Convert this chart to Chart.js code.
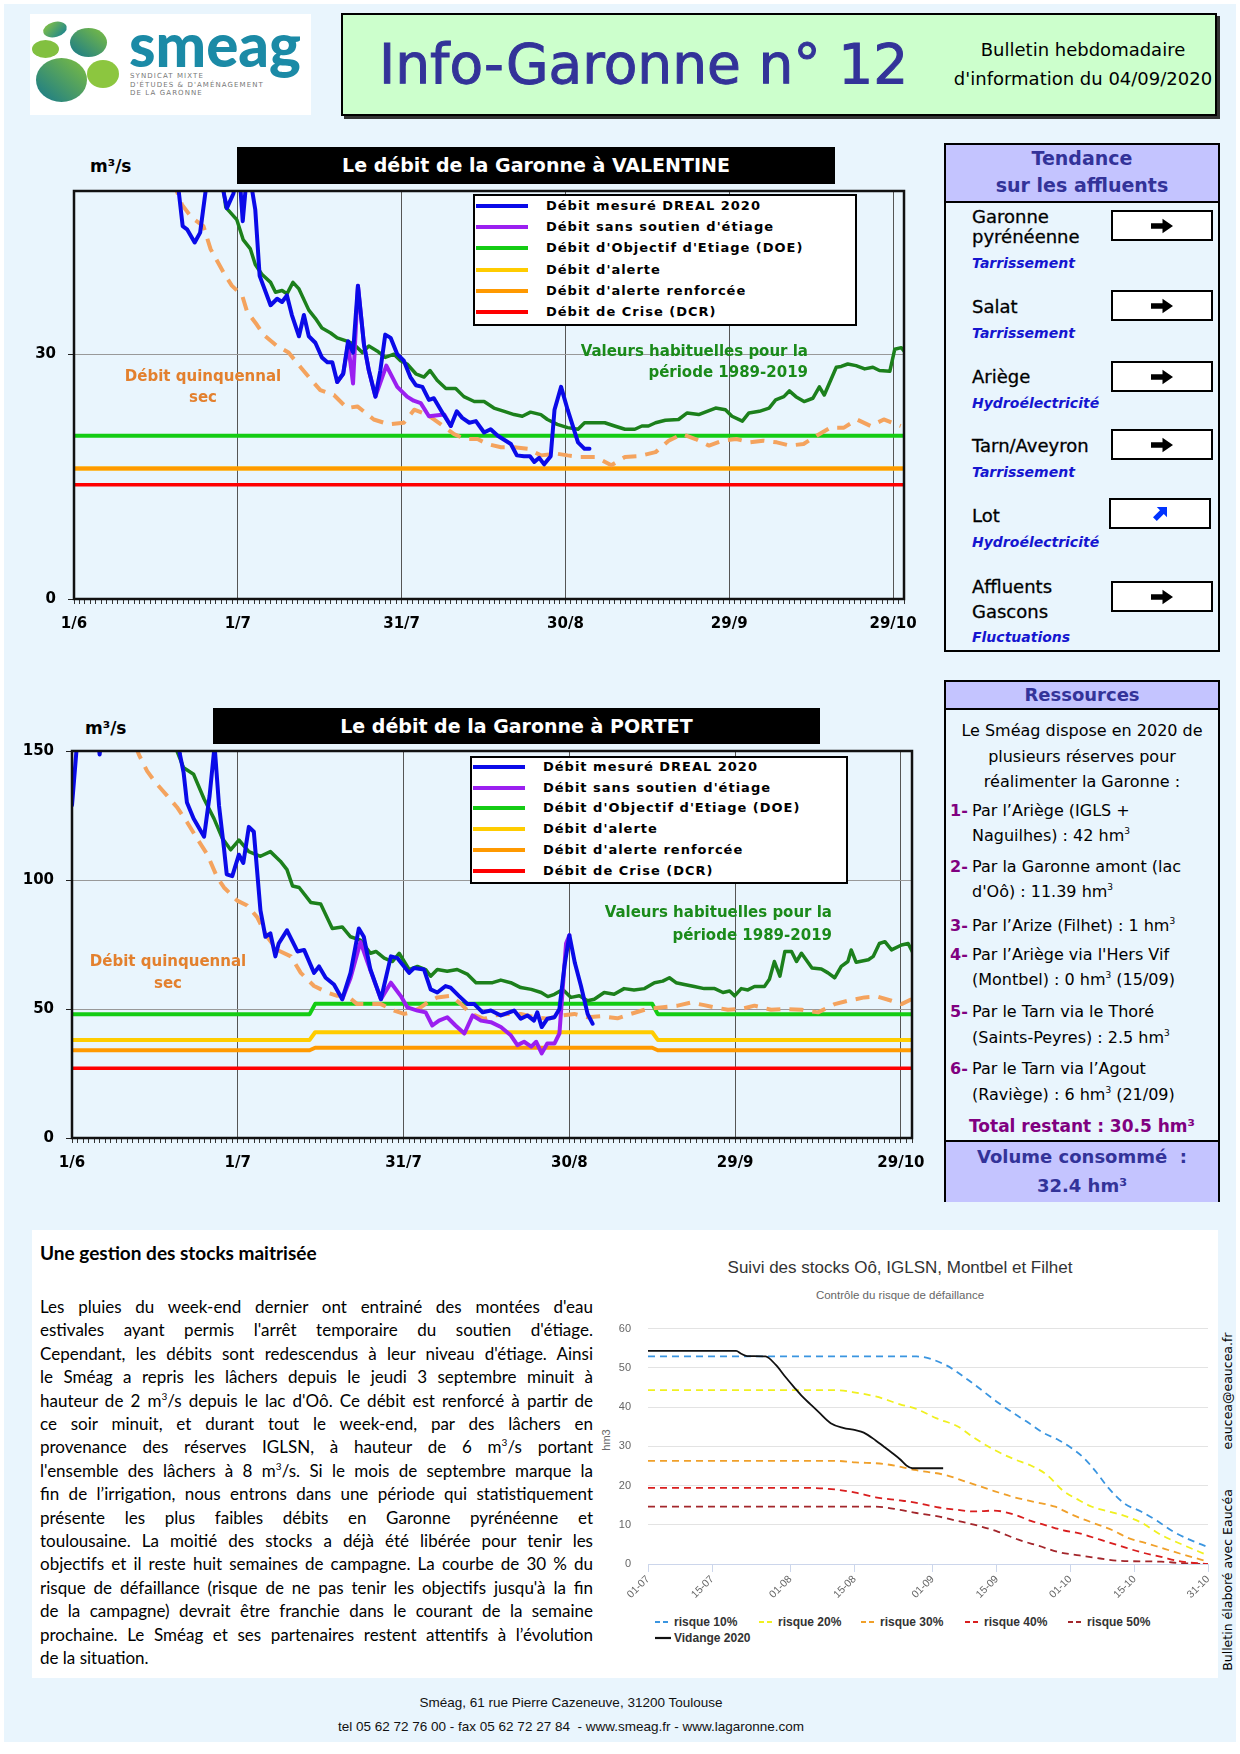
<!DOCTYPE html>
<html lang="fr">
<head>
<meta charset="utf-8">
<title>Info-Garonne n° 12</title>
<script src="https://cdn.jsdelivr.net/npm/chart.js@4.4.1/dist/chart.umd.min.js"></script>
<style>
  html, body { margin: 0; padding: 0; }
  body { width: 1240px; height: 1754px; position: relative; background: #fff; font-family: "DejaVu Sans", sans-serif; color: #000; overflow: hidden; }
  .a { position: absolute; white-space: nowrap; }
  #fond { left: 4px; top: 4px; width: 1232px; height: 1738px; background: #e9f5fd; }
  #logo { left: 30px; top: 14px; width: 281px; height: 101px; background: #fff; }
  #bandeau { left: 341px; top: 13px; width: 872px; height: 99px; background: #ccffcc; border: 2px solid #000; box-shadow: 3px 3px 0 #333; }
  #titre { left: 379px; top: 32px; font-size: 55px; line-height: 64px; color: #333399; -webkit-text-stroke: 1px #333399; }
  .bull { left: 933px; width: 300px; text-align: center; font-size: 18px; line-height: 22px; }
  .barre { background: #000; color: #fff; font-weight: bold; font-size: 19px; text-align: center; }
  .unite { font-weight: bold; font-size: 17px; line-height: 20px; }
  .leg { background: #fff; border: 2px solid #000; box-sizing: border-box; }
  .lt { font-weight: bold; font-size: 13px; letter-spacing: 1px; line-height: 18px; }
  .annot { font-weight: bold; font-size: 15px; }
  .orange { color: #e3802e; text-align: center; }
  .vert { color: #1a8a1a; text-align: right; }
  canvas { position: absolute; }
  .panneau { left: 944px; width: 276px; border: 2px solid #000; box-sizing: border-box; background: #e9f5fd; }
  .entete { background: #c4c4ff; color: #333399; font-weight: bold; text-align: center; }
  .nom { left: 972px; font-size: 18px; line-height: 20px; -webkit-text-stroke: 0.3px #000; }
  .etat { left: 972px; font-style: italic; font-weight: bold; font-size: 14px; line-height: 18px; color: #1515d0; }
  .fl { left: 1111px; width: 102px; height: 31px; border: 2px solid #000; box-sizing: border-box; background: #fff; display: flex; align-items: center; justify-content: center; }
  .res { font-size: 16px; line-height: 20px; }
  .num { left: 950px; color: #800080; font-weight: bold; }
  .txt { left: 972px; }
  .cen { left: 944px; width: 276px; text-align: center; }
  .res sup { font-size: 9px; vertical-align: 7px; line-height: 0; }
  #blanc { left: 32px; top: 1230px; width: 1186px; height: 448px; background: #fff; }
  #texte { left: 40px; top: 1295px; width: 553px; font-family: Lato, sans-serif; font-size: 17px; line-height: 23.4px; }
  #texte div { white-space: nowrap; }
  #texte sup { font-size: 10px; line-height: 0; }
  .hc { font-family: "Liberation Sans", Arial, sans-serif; }
  .hleg { font-weight: bold; font-size: 12px; color: #333; line-height: 14px; }
  .pied { left: 271px; width: 600px; text-align: center; font-family: "Liberation Sans", sans-serif; font-size: 13.5px; line-height: 18px; color: #111; }
  .rot { transform: rotate(-90deg); text-align: center; font-size: 12.5px; line-height: 16px; width: 220px; }
</style>
</head>
<body>
<div class="a" id="fond"></div>

<!-- en-tête -->
<div class="a" id="logo">
  <svg width="281" height="101" viewBox="0 0 281 101">
    <defs>
      <linearGradient id="g1" x1="0" y1="0" x2="1" y2="1"><stop offset="0" stop-color="#8cc63f"/><stop offset="1" stop-color="#137f96"/></linearGradient>
      <linearGradient id="g2" x1="1" y1="0" x2="0" y2="1"><stop offset="0" stop-color="#7fbf3f"/><stop offset="1" stop-color="#16788c"/></linearGradient>
    </defs>
    <ellipse cx="25" cy="15.5" rx="12" ry="7.5" fill="url(#g1)" transform="rotate(-15 25 15.5)"/>
    <ellipse cx="58.5" cy="28.5" rx="18.5" ry="14.5" fill="url(#g2)"/>
    <ellipse cx="15.5" cy="35" rx="13.5" ry="9" fill="#82c040"/>
    <ellipse cx="31.5" cy="66" rx="25.5" ry="22" fill="url(#g2)"/>
    <ellipse cx="73" cy="60" rx="16" ry="14" fill="#8cc63f"/>
    <text x="99" y="53" font-family="Lato" font-weight="900" font-size="60" fill="#1b8aa6">smeag</text>
    <text x="100" y="64" font-family="DejaVu Sans" font-size="7" letter-spacing="1.1" fill="#777">SYNDICAT MIXTE</text>
    <text x="100" y="73" font-family="DejaVu Sans" font-size="7" letter-spacing="1.1" fill="#777">D'ÉTUDES &amp; D'AMÉNAGEMENT</text>
    <text x="100" y="81" font-family="DejaVu Sans" font-size="7" letter-spacing="1.1" fill="#777">DE LA GARONNE</text>
  </svg>
</div>
<div class="a" id="bandeau"></div>
<div class="a" id="titre">Info-Garonne n°&nbsp;12</div>
<div class="a bull" style="top:39px">Bulletin hebdomadaire</div>
<div class="a bull" style="top:68px">d'information du 04/09/2020</div>

<!-- graphique Valentine -->
<div class="a barre" style="left:237px;top:147px;width:598px;height:37px;line-height:37px">Le débit de la Garonne à VALENTINE</div>
<div class="a unite" style="left:90px;top:156px">m³/s</div>
<canvas id="cValentine" width="910" height="475" style="left:20px;top:170px"></canvas>
<div class="a leg" id="legValentine" style="left:473px;top:194px;width:384px;height:132px"></div>
<div class="a annot orange" style="left:103px;top:366px;width:200px;line-height:21px">Débit quinquennal<br>sec</div>
<div class="a annot vert" style="left:508px;top:341px;width:300px;line-height:21px">Valeurs habituelles pour la<br>période 1989-2019</div>

<!-- graphique Portet -->
<div class="a barre" style="left:213px;top:708px;width:607px;height:36px;line-height:36px">Le débit de la Garonne à PORTET</div>
<div class="a unite" style="left:85px;top:718px">m³/s</div>
<canvas id="cPortet" width="920" height="455" style="left:15px;top:730px"></canvas>
<div class="a leg" id="legPortet" style="left:470px;top:756px;width:378px;height:128px"></div>
<div class="a annot orange" style="left:68px;top:950px;width:200px;line-height:22px">Débit quinquennal<br>sec</div>
<div class="a annot vert" style="left:532px;top:901px;width:300px;line-height:23px">Valeurs habituelles pour la<br>période 1989-2019</div>

<!-- tendance sur les affluents -->
<div class="a panneau" style="top:143px;height:509px"></div>
<div class="a entete" style="left:946px;top:145px;width:272px;height:56px;border-bottom:2px solid #000;font-size:19px;line-height:27px">Tendance<br>sur les affluents</div>
<div class="a nom" style="top:207px">Garonne</div>
<div class="a nom" style="top:227px">pyrénéenne</div>
<div class="a etat" style="top:254px">Tarrissement</div>
<div class="a fl" style="top:210px"></div>
<div class="a nom" style="top:297px">Salat</div>
<div class="a etat" style="top:324px">Tarrissement</div>
<div class="a fl" style="top:290px"></div>
<div class="a nom" style="top:367px">Ariège</div>
<div class="a etat" style="top:394px">Hydroélectricité</div>
<div class="a fl" style="top:361px"></div>
<div class="a nom" style="top:436px">Tarn/Aveyron</div>
<div class="a etat" style="top:463px">Tarrissement</div>
<div class="a fl" style="top:429px"></div>
<div class="a nom" style="top:506px">Lot</div>
<div class="a etat" style="top:533px">Hydroélectricité</div>
<div class="a fl hausse" style="top:498px;left:1109px"></div>
<div class="a nom" style="top:577px">Affluents</div>
<div class="a nom" style="top:602px">Gascons</div>
<div class="a etat" style="top:628px">Fluctuations</div>
<div class="a fl" style="top:581px"></div>

<!-- ressources -->
<div class="a panneau" style="top:680px;height:522px"></div>
<div class="a entete" style="left:946px;top:682px;width:272px;height:26px;border-bottom:2px solid #000;font-size:18px;line-height:26px">Ressources</div>
<div class="a res cen" style="top:721px">Le Sméag dispose en 2020 de</div>
<div class="a res cen" style="top:747px">plusieurs réserves pour</div>
<div class="a res cen" style="top:772px">réalimenter la Garonne :</div>
<div class="a res num" style="top:801px">1-</div>
<div class="a res txt" style="top:801px">Par l’Ariège (IGLS +</div>
<div class="a res txt" style="top:826px">Naguilhes) : 42 hm<sup>3</sup></div>
<div class="a res num" style="top:857px">2-</div>
<div class="a res txt" style="top:857px">Par la Garonne amont (lac</div>
<div class="a res txt" style="top:882px">d'Oô) : 11.39 hm<sup>3</sup></div>
<div class="a res num" style="top:916px">3-</div>
<div class="a res txt" style="top:916px">Par l’Arize (Filhet) : 1 hm<sup>3</sup></div>
<div class="a res num" style="top:945px">4-</div>
<div class="a res txt" style="top:945px">Par l’Ariège via l'Hers Vif</div>
<div class="a res txt" style="top:970px">(Montbel) : 0 hm<sup>3</sup> (15/09)</div>
<div class="a res num" style="top:1002px">5-</div>
<div class="a res txt" style="top:1002px">Par le Tarn via le Thoré</div>
<div class="a res txt" style="top:1028px">(Saints-Peyres) : 2.5 hm<sup>3</sup></div>
<div class="a res num" style="top:1059px">6-</div>
<div class="a res txt" style="top:1059px">Par le Tarn via l’Agout</div>
<div class="a res txt" style="top:1085px">(Raviège) : 6 hm<sup>3</sup> (21/09)</div>
<div class="a cen" style="top:1115px;font-weight:bold;font-size:17px;line-height:22px;color:#800080">Total restant : 30.5 hm³</div>
<div class="a entete" style="left:946px;top:1140px;width:272px;height:60px;border-top:2px solid #000;font-size:18px;line-height:29px">Volume consommé&nbsp; :<br>32.4 hm³</div>

<!-- gestion des stocks -->
<div class="a" id="blanc"></div>
<div class="a" style="left:40px;top:1241px;font-family:Lato,sans-serif;font-weight:bold;font-size:19px;line-height:24px">Une gestion des stocks maitrisée</div>
<div class="a" id="texte">
  <div>Les pluies du week-end dernier ont entrainé des montées d'eau</div>
  <div>estivales ayant permis l'arrêt temporaire du soutien d'étiage.</div>
  <div>Cependant, les débits sont redescendus à leur niveau d'étiage. Ainsi</div>
  <div>le Sméag a repris les lâchers depuis le jeudi 3 septembre minuit à</div>
  <div>hauteur de 2 m<sup>3</sup>/s depuis le lac d'Oô. Ce débit est renforcé à partir de</div>
  <div>ce soir minuit, et durant tout le week-end, par des lâchers en</div>
  <div>provenance des réserves IGLSN, à hauteur de 6 m<sup>3</sup>/s portant</div>
  <div>l'ensemble des lâchers à 8 m<sup>3</sup>/s. Si le mois de septembre marque la</div>
  <div>fin de l’irrigation, nous entrons dans une période qui statistiquement</div>
  <div>présente les plus faibles débits en Garonne pyrénéenne et</div>
  <div>toulousaine. La moitié des stocks a déjà été libérée pour tenir les</div>
  <div>objectifs et il reste huit semaines de campagne. La courbe de 30 % du</div>
  <div>risque de défaillance (risque de ne pas tenir les objectifs jusqu'à la fin</div>
  <div>de la campagne) devrait être franchie dans le courant de la semaine</div>
  <div>prochaine. Le Sméag et ses partenaires restent attentifs à l’évolution</div>
  <div class="fin">de la situation.</div>
</div>

<div class="a hc" style="left:600px;top:1257px;width:600px;text-align:center;font-size:17px;line-height:22px;color:#333">Suivi des stocks Oô, IGLSN, Montbel et Filhet</div>
<div class="a hc" style="left:600px;top:1287px;width:600px;text-align:center;font-size:11.5px;line-height:16px;color:#666">Contrôle du risque de défaillance</div>
<div class="a hc" style="left:586px;top:1433px;width:40px;text-align:center;font-size:11px;line-height:14px;color:#666;transform:rotate(-90deg)">hm3</div>
<canvas id="cStocks" width="630" height="310" style="left:590px;top:1305px"></canvas>
<div id="legStocks"></div>

<div class="a rot" style="left:1118px;top:1572px">Bulletin élaboré avec Eaucéa</div>
<div class="a rot" style="left:1118px;top:1383px">eaucea@eaucea.fr</div>

<div class="a pied" style="top:1694px">Sméag, 61 rue Pierre Cazeneuve, 31200 Toulouse</div>
<div class="a pied" style="top:1718px">tel 05 62 72 76 00 - fax 05 62 72 27 84&nbsp; - www.smeag.fr - www.lagaronne.com</div>

<script>
// axe des temps : jours depuis le 1/6
const joursTicks = [0, 30, 60, 90, 120, 150];
const joursLabels = ['1/6', '1/7', '31/7', '30/8', '29/9', '29/10'];

// légende commune aux deux graphiques de débit
const seriesNoms = ['Débit mesuré DREAL 2020', "Débit sans soutien d'étiage", "Débit d'Objectif d'Etiage (DOE)",
  "Débit d'alerte", "Débit d'alerte renforcée", 'Débit de Crise (DCR)'];
const seriesCouleurs = ['#0a0ae8', '#9b1ff0', '#14cc14', '#ffcc00', '#ff9900', '#ff0000'];

// Valentine : [jour, m3/s]
const valMesure = [[19, 51], [19.9, 45.7], [20.7, 45.3], [22.1, 43.7], [23.1, 44.9], [24.3, 51], [25.5, 58], [26.5, 56],
  [27.2, 50.5], [28, 47.9], [29.2, 49.7], [30.2, 53], [30.9, 46.3], [31.8, 53], [32.4, 51], [33.2, 47.7], [34, 39.6],
  [36, 36], [37.2, 36.8], [38.1, 36.4], [39, 37.2], [39.9, 34.8], [41.2, 32.2], [42.1, 34.8], [43, 32.2], [44.2, 31.4],
  [45.4, 29.6], [46.4, 29], [47.3, 29], [48.2, 26.6], [49.3, 27.6], [50.2, 31.6], [51.1, 30.2], [52, 38.4], [53.1, 31.2],
  [54, 28], [55.2, 24.8], [56.1, 28], [57, 32.4], [58, 32], [59.2, 30], [60.4, 29.2], [61.6, 27.2], [62.6, 26.2],
  [63.8, 26], [65, 24.4], [65.9, 24.6], [67.5, 22.8], [69, 21.2], [70.1, 23], [71.1, 22.2], [72.4, 21.6], [73.6, 21.8],
  [75.1, 20.4], [76.3, 20.8], [77.6, 20], [80, 19], [81.1, 17.6], [82.4, 17.5], [83.5, 17.5], [84.3, 16.8], [85.2, 17.3],
  [86.1, 16.5], [87.3, 17.5], [88, 23.2], [89.2, 26], [90.4, 23.2], [92.3, 19.2], [93.5, 18.4], [94.4, 18.4]];
const valSansSoutien = [[48.2, 26.6], [49.3, 27.6], [50.2, 31.2], [51.1, 26.4], [52, 38.4], [53.1, 31.2], [54, 28],
  [55.2, 24.8], [57.2, 28.6], [59.2, 26], [61, 24.8], [62.2, 24.3], [63.5, 24], [65, 22.4], [67.8, 22.6], [69, 21.2]];
const valHabituel = [[27.3, 50.5], [27.8, 48], [29.8, 46.5], [31, 44], [32.3, 42.9], [33.2, 41], [34.4, 39.8], [36, 38.8],
  [36.9, 37.6], [38.1, 37.8], [39, 37.4], [40.1, 38.8], [41.2, 38], [43, 35.4], [44.2, 34.4], [45.4, 33.2], [47, 32.6],
  [48.2, 32], [50, 31.6], [51.3, 31.2], [52.8, 30.2], [54, 31], [55.5, 30.4], [57, 29.6], [58.6, 30], [59.8, 29.2],
  [61, 28.8], [62.6, 27.6], [64.1, 27.2], [65.2, 28], [66.5, 26.8], [68.1, 25.8], [69.9, 25.8], [71.4, 24.8], [73.3, 24.2],
  [75.1, 24.2], [76.9, 23.4], [78.8, 23], [80.6, 22.6], [82.1, 22.4], [83.6, 22.9], [85.5, 22.6], [86.7, 22], [88.5, 21.4],
  [90.4, 21], [92.3, 20.8], [93.5, 21.6], [94.7, 21.6], [97.2, 21.6], [99, 21.2], [100.9, 20.8], [102.7, 20.8], [104, 21.2],
  [105.2, 21.2], [106.5, 21.6], [108.3, 21.9], [110.7, 22], [112.3, 22.8], [114.4, 22.6], [117.5, 23.4], [119.3, 23.2],
  [120.5, 22.4], [122.4, 21.8], [123.6, 22.8], [125.5, 23], [127.3, 23.4], [128.5, 24.4], [130, 24.8], [131, 25.5],
  [132.2, 24.8], [133.7, 24.2], [135.3, 24.6], [136.5, 26], [137.4, 25], [139.6, 28.4], [140.5, 28.5], [141.7, 28.8],
  [143.2, 28.6], [144.8, 28.2], [146.3, 28.4], [147.5, 28], [149.4, 27.9], [150.3, 30.6], [151.5, 30.8], [152.5, 30]];
const valQuinquennal = [[17.5, 54], [18.8, 50], [19.8, 48.3], [21.6, 46.7], [23.7, 45.7], [25, 42.9], [27.4, 40], [28.9, 38.4],
  [30.8, 37.2], [31.7, 35.2], [33.5, 33.6], [34.7, 32.4], [37.2, 31], [39.3, 30.2], [41.5, 28.4], [43, 27.2], [45.1, 25.6],
  [47.6, 25], [50, 23.4], [51.9, 23.6], [54.9, 22], [57.7, 21.4], [60.4, 21.6], [62.3, 23.2], [64.7, 22.6], [67.2, 21.4],
  [69.6, 20.2], [71.7, 19.6], [73.9, 19.6], [75.7, 19], [78.2, 18.6], [80.6, 18.6], [83.1, 18.4], [85.5, 17.6], [88.5, 17.8],
  [90.4, 17.6], [92.8, 17.4], [95.6, 17.4], [98.4, 16.4], [100.9, 17.4], [103.4, 17.5], [106.5, 18], [108.9, 19.4],
  [111.4, 20.2], [113.8, 19.6], [116.3, 18.8], [118.8, 19.4], [121.3, 19.6], [123.7, 19.2], [126.2, 19.4], [128.7, 19.2],
  [131.1, 18.8], [133.6, 19], [136, 20], [138.5, 21], [141, 21], [143.4, 22], [145.9, 21.2], [148.3, 22], [151.4, 21.2]];
const valDOE = [[0, 20], [152, 20]];
const valAlerte = [[0, 16], [152, 16]];
const valRenforcee = [[0, 16], [152, 16]];
const valCrise = [[0, 14], [152, 14]];

// Portet : [jour, m3/s]
const porMesure = [[0, 129], [0.8, 150], [1.5, 165], [4.5, 158], [5, 148.6], [5.5, 158], [12, 170], [19, 160], [19.5, 149],
  [20.2, 141.6], [20.8, 130], [22, 123.8], [23.9, 116.8], [24.9, 132.7], [25.8, 152], [26.6, 128.9], [27.5, 112.3],
  [28, 102.2], [29, 101.5], [30.2, 109.8], [31, 106.6], [32, 120.6], [32.9, 118.7], [34.1, 88.2], [35, 78], [35.9, 79.3],
  [36.8, 70.4], [37.4, 75.4], [38.9, 80.5], [40.8, 72.3], [42, 72.9], [43.8, 64], [44.7, 66.5], [45.9, 62.1], [47.4, 59.5],
  [48.9, 53.8], [50.4, 64], [51.9, 81.2], [52.8, 78], [54, 65.3], [55.9, 53.8], [57.7, 70.4], [58.9, 69.7], [61, 64],
  [61.9, 65.9], [63.7, 65.3], [64.9, 57.6], [66.1, 56.4], [67.6, 58.9], [68.5, 58.3], [70, 55.1], [71.6, 51.9], [72.8, 51.9],
  [74.3, 48.7], [75.8, 49.4], [77.6, 47.5], [80, 49.4], [81.2, 46.2], [82.4, 47.5], [83.6, 45.5], [84.2, 48.7], [85, 43],
  [86, 46.2], [87.3, 46.8], [88.2, 50], [89.1, 66.5], [90, 78.6], [91, 67.8], [92.1, 58.9], [93.3, 48.1], [94.2, 44.3]];
const porSansSoutien = [[48.9, 53.8], [50.4, 62], [52.2, 76], [53.5, 68], [55.9, 53.8], [57.7, 60.2], [59.5, 55], [60.7, 50.6],
  [62.5, 49.4], [64, 48.7], [65.2, 43.6], [66.4, 45.5], [67.9, 46.8], [69.4, 43.6], [71, 40.5], [72.5, 47.5], [74, 45.5],
  [75.8, 44.9], [77.6, 43], [79.4, 39.8], [80.6, 36], [81.8, 37.3], [83.1, 35.4], [84, 37.3], [85, 32.8], [86, 36.6],
  [87.3, 36.6], [88.2, 40.5], [89.4, 75.4], [90, 78.6]];
const porHabituel = [[19, 150], [20.2, 143.5], [22, 141], [23.9, 131.4], [25.7, 123.8], [27.2, 116.2], [28.7, 111.7],
  [30.2, 115.5], [32, 111], [34.1, 109.2], [35.9, 111], [37.7, 107.3], [38.9, 104], [39.9, 97.7], [41.1, 97.1], [43.2, 91.3],
  [45, 90.7], [47.1, 81.2], [48.9, 81.8], [50.4, 78], [52.2, 76.7], [54, 71.6], [55, 72.3], [56.5, 69.7], [58, 68.4],
  [59.2, 71.6], [61, 65.3], [62.5, 66.5], [64, 65.3], [64.9, 62.7], [66.1, 65.3], [67.9, 64.6], [69.7, 65.3], [71.6, 63.4],
  [73.1, 60.2], [74.6, 60.2], [76.1, 60.2], [77.6, 61.2], [79.4, 60.2], [81.2, 58.3], [83.1, 57.6], [84.9, 56.4], [86.1, 54.8],
  [87.3, 55.7], [88.8, 57.6], [90.3, 54.5], [91.8, 55.1], [93.3, 53.2], [94.5, 53.8], [96.3, 56.4], [98.1, 55.7], [99.9, 57.9],
  [101.7, 57.4], [103.6, 57.9], [105.4, 60.2], [106.9, 60.8], [108.1, 62.1], [109.3, 60.2], [110.8, 59.5], [112.6, 58.7],
  [114.4, 57.9], [116.3, 57.9], [117.8, 56.4], [119, 57], [119.9, 55.1], [121.1, 57.9], [122.3, 57.4], [123.5, 58.7],
  [125.3, 58.7], [126.2, 61.5], [127.1, 68.4], [128.1, 62.7], [129, 72.3], [130.2, 72.3], [131.1, 68.4], [132, 71.6],
  [133.9, 65.9], [135.6, 65.5], [136.8, 64], [138, 62.1], [139.2, 66.5], [140.4, 68.4], [141, 72.9], [141.9, 68.1],
  [144.1, 69.1], [145, 70.4], [146.1, 75.4], [147.1, 76.1], [148.3, 72.9], [150.1, 74.8], [151.3, 75.4], [152.2, 71.6]];
const porQuinquennal = [[11.5, 152], [12.1, 148.6], [13.6, 142.2], [15.1, 137.8], [17.2, 132.7], [19, 128.2], [20.8, 122.5],
  [22.6, 116.2], [24.5, 109.8], [26.3, 100.9], [27.5, 97.1], [29.9, 92], [31.7, 90.1], [33.5, 85.6], [35.3, 78], [37.1, 72.9],
  [39.6, 70.4], [41.4, 64], [43.8, 58.9], [46.2, 56.4], [48, 55.1], [49.8, 55.1], [51.6, 51.9], [54, 51.9], [55.9, 51.9],
  [58.3, 49.4], [60.1, 48.1], [61.3, 48.7], [63.1, 50.6], [64.3, 52.5], [66.1, 54.5], [68.5, 55.1], [70.4, 51.9], [72.2, 48.1],
  [74.6, 46.2], [76.4, 47.5], [78.8, 48.1], [81.2, 48.1], [83.7, 46.8], [86.1, 46.2], [88.5, 47.5], [90.9, 48.1], [93.3, 46.8],
  [95.7, 47.2], [98.7, 46.4], [101.1, 48.1], [104.1, 50], [106.5, 50.6], [109.6, 51.3], [112, 52.5], [114.4, 51.5],
  [116.3, 50.6], [118.7, 49.7], [121.1, 50], [123.5, 51.3], [126.5, 49.7], [129, 50], [132, 49.7], [135, 48.7], [138, 51.9],
  [140.4, 53.2], [143.4, 54.5], [145.8, 54.8], [148.3, 53.2], [150.1, 51.9], [151.9, 53.8]];
const porDOE = [[0, 48], [43, 48], [44, 52], [105, 52], [106, 48], [152, 48]];
const porAlerte = [[0, 38], [43, 38], [44, 41], [105, 41], [106, 38], [152, 38]];
const porRenforcee = [[0, 34], [43, 34], [44, 35], [105, 35], [106, 34], [152, 34]];
const porCrise = [[0, 27], [152, 27]];

// suivi des stocks : jours depuis le 1/7, hm3
const stockTicks = [0, 14, 31, 45, 62, 76, 92, 106, 122];
const stockLabels = ['01-07', '15-07', '01-08', '15-08', '01-09', '15-09', '01-10', '15-10', '31-10'];
const stockNoms = ['risque 10%', 'risque 20%', 'risque 30%', 'risque 40%', 'risque 50%', 'Vidange 2020'];
const stockCouleurs = ['#3a95e0', '#f0f020', '#f0a02a', '#d91e1e', '#a3262b', '#111111'];
const risque10 = [[0, 52.9], [58.5, 52.9], [64.7, 50.8], [70, 46.7], [76.3, 41.1], [79.8, 38.3], [82.5, 36.3], [86, 33.5],
  [89.6, 31.5], [92.3, 29.5], [94.9, 27.1], [97.6, 23.5], [100.3, 19.4], [103.8, 15.4], [107.4, 13.4], [110.9, 11],
  [114.5, 8.2], [118, 6.2], [122, 4.3]];
const risque20 = [[0, 44.3], [40.7, 44.3], [45.2, 43.7], [49.6, 42.7], [54.9, 40.7], [58.5, 39.5], [62.9, 37.1], [67.4, 35.1],
  [70.9, 32.3], [75.4, 29.1], [79.8, 26.7], [83.4, 25.1], [86.9, 22.7], [90.5, 18.6], [94, 16.2], [96.7, 14.6], [100.3, 13.4],
  [102.9, 12.6], [107.4, 10.6], [111.8, 7.4], [116.3, 5], [122, 2.2]];
const risque30 = [[0, 26.3], [40.7, 26.3], [45.2, 25.9], [51.4, 25.5], [58.5, 23.9], [64.7, 22.7], [69.2, 21], [75.4, 18.6],
  [79.8, 17], [84.3, 15.8], [88.7, 14.6], [92.3, 12.6], [96.7, 10.6], [101.2, 8.6], [104.7, 6.6], [108.3, 5.4], [112.7, 3.8],
  [117.2, 2.2], [122, 0.6]];
const risque40 = [[0, 19.4], [34.5, 19.4], [40.7, 19], [45.2, 18.2], [49.6, 17], [54.9, 16.2], [58.5, 15.6], [62.9, 14.5],
  [67.4, 13.8], [70.9, 13.4], [75.4, 13.6], [79.8, 12.6], [83.4, 11], [86.9, 9.8], [90.5, 8.6], [94, 7.8], [98.5, 6.2],
  [102.9, 4.6], [107.4, 3], [111.8, 1.8], [116.3, 0.6], [122, 0]];
const risque50 = [[0, 14.6], [49.6, 14.6], [54.9, 13.8], [58.5, 13], [62.9, 12.2], [67.4, 11], [71.8, 9.8], [76.3, 8.2],
  [80.7, 6.2], [85.2, 4.6], [89.6, 3], [94, 2.2], [98.5, 1.4], [102.9, 0.8], [111.8, 0.6], [116.3, 0.2], [122, 0]];
const vidange2020 = [[0, 54.3], [19.2, 54.3], [20.3, 53.6], [21.6, 53], [25.6, 52.9], [27.8, 50.8], [30, 47.6], [31.8, 45.1],
  [33.6, 42.7], [35.4, 40.7], [37.2, 38.7], [39.8, 35.9], [42.5, 34.7], [45.2, 34.1], [47, 33.5], [49.6, 31.5], [51.4, 29.9],
  [53.2, 28.3], [54.9, 26.7], [56.3, 25.1], [57.6, 24.4], [64.3, 24.4]];

const pts = arr => arr.map(([x, y]) => ({ x, y }));

// cadre noir autour de la zone de tracé
const cadre = {
  id: 'cadre',
  afterDatasetsDraw(chart, args, opts) {
    if (!opts.width) return;
    const { ctx, chartArea: a } = chart;
    ctx.save();
    ctx.strokeStyle = '#111';
    ctx.lineWidth = opts.width;
    ctx.strokeRect(a.left, a.top, a.right - a.left, a.bottom - a.top);
    ctx.restore();
  }
};

function courbe(data, couleur, largeur, tirets) {
  return {
    data: pts(data), borderColor: couleur, borderWidth: largeur, borderDash: tirets || [],
    pointRadius: 0, tension: 0, fill: false, clip: 0, borderCapStyle: tirets ? 'butt' : 'round', borderJoinStyle: 'round'
  };
}

function graphDebit(id, s, o) {
  const tousLesJours = [];
  for (let j = 0; j <= 152; j++) tousLesJours.push(j);
  return new Chart(document.getElementById(id), {
    type: 'line',
    data: {
      // le premier jeu est dessiné au-dessus des autres
      datasets: [
        courbe(s.mesure, seriesCouleurs[0], 4),
        courbe(s.sans, seriesCouleurs[1], 4),
        courbe(s.habituel, '#1c801c', 3.5),
        courbe(s.quinq, '#f4a35e', 4, [14, 9]),
        courbe(s.doe, seriesCouleurs[2], 4),
        courbe(s.renf, seriesCouleurs[4], 4),
        courbe(s.alerte, seriesCouleurs[3], 4),
        courbe(s.crise, seriesCouleurs[5], 3.5)
      ]
    },
    options: {
      responsive: false, animation: false, devicePixelRatio: 1,
      layout: { padding: { left: 0, top: o.top, right: o.right, bottom: 0 } },
      plugins: { legend: { display: false }, tooltip: { enabled: false }, cadre: { width: 2.5 } },
      scales: {
        x: {
          type: 'linear', min: 0, max: 152,
          afterBuildTicks: sc => { sc.ticks = tousLesJours.map(v => ({ value: v })); },
          afterFit: sc => { sc.height = o.xh; },
          border: { display: false },
          grid: {
            color: c => (c.tick && c.tick.value > 0 && c.tick.value % 30 === 0) ? '#555' : 'rgba(0,0,0,0)',
            tickColor: '#333', tickLength: 5, lineWidth: 1
          },
          ticks: {
            autoSkip: false, maxRotation: 0, padding: 11, color: '#000',
            font: { family: 'DejaVu Sans', weight: 'bold', size: 15 },
            callback: v => { const i = joursTicks.indexOf(v); return i >= 0 ? joursLabels[i] : ''; }
          }
        },
        y: {
          type: 'linear', min: 0, max: o.ymax,
          afterBuildTicks: sc => { sc.ticks = o.yticks.map(v => ({ value: v })); },
          afterFit: sc => { sc.width = o.yw; },
          border: { display: false },
          grid: { color: c => (c.tick && c.tick.value > 0) ? '#999' : 'rgba(0,0,0,0)', tickColor: '#222', tickLength: 6 },
          ticks: { padding: 12, color: '#000', font: { family: 'DejaVu Sans', weight: 'bold', size: 15 } }
        }
      }
    },
    plugins: [cadre]
  });
}

graphDebit('cValentine',
  { mesure: valMesure, sans: valSansSoutien, habituel: valHabituel, quinq: valQuinquennal,
    doe: valDOE, alerte: valAlerte, renf: valRenforcee, crise: valCrise },
  { top: 14, right: 26, xh: 46, yw: 54, ymax: 50, yticks: [0, 30] });

graphDebit('cPortet',
  { mesure: porMesure, sans: porSansSoutien, habituel: porHabituel, quinq: porQuinquennal,
    doe: porDOE, alerte: porAlerte, renf: porRenforcee, crise: porCrise },
  { top: 16, right: 23, xh: 47, yw: 57, ymax: 150, yticks: [0, 50, 100, 150] });

// légendes encadrées
function legende(id, premier, pas) {
  const el = document.getElementById(id);
  seriesNoms.forEach((nom, i) => {
    const y = premier + i * pas;
    el.insertAdjacentHTML('beforeend',
      '<span class="a" style="left:1px;top:' + (y - 2) + 'px;width:52px;height:4px;background:' + seriesCouleurs[i] + '"></span>' +
      '<span class="a lt" style="left:71px;top:' + (y - 9) + 'px">' + nom + '</span>');
  });
}
legende('legValentine', 10, 21.2);
legende('legPortet', 9, 20.7);

// flèches de tendance
const flecheDroite = '<svg width="24" height="16" viewBox="0 0 24 16"><path d="M1 5.3 H12.5 V0.8 L23 8 L12.5 15.2 V10.7 H1 Z" fill="#000"/></svg>';
const flecheHausse = '<svg width="22" height="22" viewBox="0 0 22 22"><path d="M4 14.2 L11 7.2 L7.8 4 L18 4 L18 14.2 L14.8 11 L7.8 18 Z" fill="#0033ff"/></svg>';
document.querySelectorAll('.fl').forEach(el => {
  el.innerHTML = el.classList.contains('hausse') ? flecheHausse : flecheDroite;
});

// texte justifié ligne par ligne
document.querySelectorAll('#texte div').forEach(d => {
  if (d.classList.contains('fin')) return;
  d.style.display = 'inline-block';
  const w = d.getBoundingClientRect().width;
  d.style.display = 'block';
  const n = (d.textContent.match(/ /g) || []).length;
  if (n) d.style.wordSpacing = ((553 - w) / n) + 'px';
});

// suivi des stocks
const tirets = [7, 5];
new Chart(document.getElementById('cStocks'), {
  type: 'line',
  data: {
    datasets: [
      { data: pts(vidange2020), borderColor: stockCouleurs[5], borderWidth: 1.8 },
      { data: pts(risque10), borderColor: stockCouleurs[0], borderWidth: 1.8, borderDash: tirets },
      { data: pts(risque20), borderColor: stockCouleurs[1], borderWidth: 1.8, borderDash: tirets },
      { data: pts(risque30), borderColor: stockCouleurs[2], borderWidth: 1.8, borderDash: tirets },
      { data: pts(risque40), borderColor: stockCouleurs[3], borderWidth: 1.8, borderDash: tirets },
      { data: pts(risque50), borderColor: stockCouleurs[4], borderWidth: 1.8, borderDash: tirets }
    ].map(d => Object.assign(d, { pointRadius: 0, cubicInterpolationMode: 'monotone', fill: false }))
  },
  options: {
    responsive: false, animation: false, devicePixelRatio: 1,
    layout: { padding: { left: 0, top: 10, right: 12, bottom: 0 } },
    plugins: { legend: { display: false }, tooltip: { enabled: false } },
    scales: {
      x: {
        type: 'linear', min: 0, max: 122,
        afterBuildTicks: sc => { sc.ticks = stockTicks.map(v => ({ value: v })); },
        afterFit: sc => { sc.height = 51; },
        border: { color: '#ccd6eb' },
        grid: { drawOnChartArea: false, tickColor: '#ccd6eb', tickLength: 8 },
        ticks: {
          autoSkip: false, minRotation: 45, maxRotation: 45, padding: 1, color: '#666',
          font: { family: 'Liberation Sans', size: 10.5 },
          callback: v => { const i = stockTicks.indexOf(v); return i >= 0 ? stockLabels[i] : ''; }
        }
      },
      y: {
        type: 'linear', min: 0, max: 60,
        afterBuildTicks: sc => { sc.ticks = [0, 10, 20, 30, 40, 50, 60].map(v => ({ value: v })); },
        afterFit: sc => { sc.width = 58; },
        border: { display: false },
        grid: { color: '#e3e3e3', drawTicks: false },
        ticks: { padding: 17, color: '#666', font: { family: 'Liberation Sans', size: 11 } }
      }
    }
  }
});

// légende du suivi des stocks
const legX = [655, 759, 861, 965, 1068, 655];
const legY = [1622, 1622, 1622, 1622, 1622, 1638];
const legStocks = document.getElementById('legStocks');
stockNoms.forEach((nom, i) => {
  const dash = i < 5 ? ' stroke-dasharray="5,3"' : '';
  legStocks.insertAdjacentHTML('beforeend',
    '<svg class="a" width="16" height="4" style="left:' + legX[i] + 'px;top:' + (legY[i] - 2) + 'px">' +
    '<line x1="0" y1="2" x2="16" y2="2" stroke="' + stockCouleurs[i] + '" stroke-width="2.2"' + dash + '/></svg>' +
    '<span class="a hc hleg" style="left:' + (legX[i] + 19) + 'px;top:' + (legY[i] - 7) + 'px">' + nom + '</span>');
});
</script>
</body>
</html>
